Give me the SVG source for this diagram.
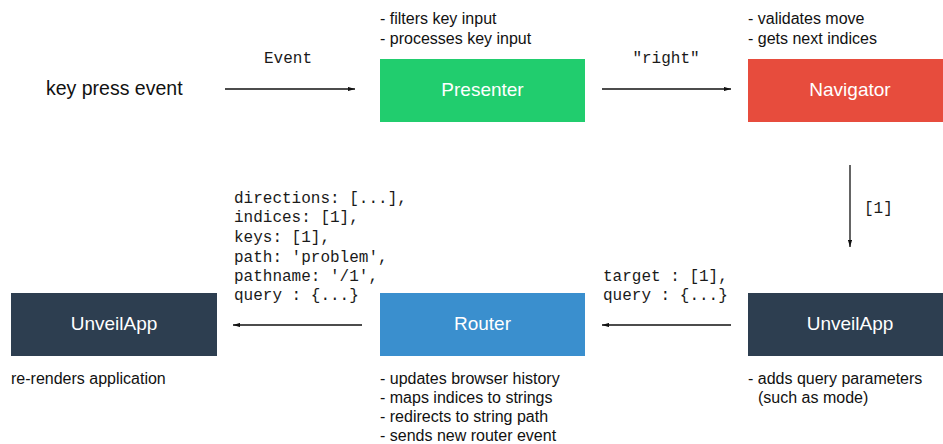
<svg xmlns="http://www.w3.org/2000/svg" width="943" height="444" viewBox="0 0 943 444">
<style>
.box-label{font-family:"Liberation Sans",Arial,sans-serif;font-size:19px;fill:#ffffff;text-anchor:middle}
.note{font-family:"Liberation Sans",Arial,sans-serif;font-size:16px;fill:#111111}
.code{font-family:"Liberation Mono","Courier New",monospace;font-size:16px;fill:#1a1a1a}
.conn{stroke:#111111;stroke-width:1.3;fill:none;marker-end:url(#ah)}
</style>
<defs>
<marker id="ah" viewBox="0 0 10 6" refX="10" refY="3" markerWidth="7" markerHeight="4.2" markerUnits="userSpaceOnUse" orient="auto">
<path d="M0,0 L10,3 L0,6 z" fill="#111111"/>
</marker>
</defs>
<rect width="943" height="444" fill="#ffffff"/>

<g id="key-press-event">
<text x="46" y="95" font-family="Liberation Sans, Arial, sans-serif" font-size="19.5" fill="#111111">key press event</text>
</g>

<g id="presenter">
<rect x="380" y="59" width="205" height="63" fill="#21cd6e"/>
<text class="box-label" x="482.5" y="96">Presenter</text>
<text class="note" x="380" y="24">- filters key input</text>
<text class="note" x="380" y="44">- processes key input</text>
</g>

<g id="navigator">
<rect x="748" y="59" width="200" height="63" fill="#e74c3d"/>
<text class="box-label" x="850" y="96">Navigator</text>
<text class="note" x="748" y="24">- validates move</text>
<text class="note" x="748" y="44">- gets next indices</text>
</g>

<g id="unveilapp-right">
<rect x="748" y="293" width="200" height="63" fill="#2d3e50"/>
<text class="box-label" x="850" y="330">UnveilApp</text>
<text class="note" x="748" y="384">- adds query parameters</text>
<text class="note" x="758" y="403">(such as mode)</text>
</g>

<g id="router">
<rect x="380" y="293" width="205" height="63" fill="#3a8fce"/>
<text class="box-label" x="482.5" y="330">Router</text>
<text class="note" x="380" y="384">- updates browser history</text>
<text class="note" x="380" y="403">- maps indices to strings</text>
<text class="note" x="380" y="422">- redirects to string path</text>
<text class="note" x="380" y="441">- sends new router event</text>
</g>

<g id="unveilapp-left">
<rect x="11" y="293" width="206" height="63" fill="#2d3e50"/>
<text class="box-label" x="114" y="330">UnveilApp</text>
<text class="note" x="11" y="384">re-renders application</text>
</g>

<g id="connectors">
<line class="conn" x1="225" y1="89" x2="355" y2="89"/>
<text class="code" x="288" y="63" text-anchor="middle">Event</text>
<line class="conn" x1="602" y1="89" x2="731" y2="89"/>
<text class="code" x="666" y="63" text-anchor="middle">"right"</text>
<line class="conn" x1="850" y1="165" x2="850" y2="247"/>
<text class="code" x="864" y="213">[1]</text>
<line class="conn" x1="731" y1="325" x2="602" y2="325"/>
<text class="code" x="603" y="281">target : [1],</text>
<text class="code" x="603" y="300">query : {...}</text>
<line class="conn" x1="362" y1="325" x2="233" y2="325"/>
<text class="code" x="234" y="203">directions: [...],</text>
<text class="code" x="234" y="222">indices: [1],</text>
<text class="code" x="234" y="242">keys: [1],</text>
<text class="code" x="234" y="262">path: 'problem',</text>
<text class="code" x="234" y="281">pathname: '/1',</text>
<text class="code" x="234" y="300">query : {...}</text>
</g>
</svg>
